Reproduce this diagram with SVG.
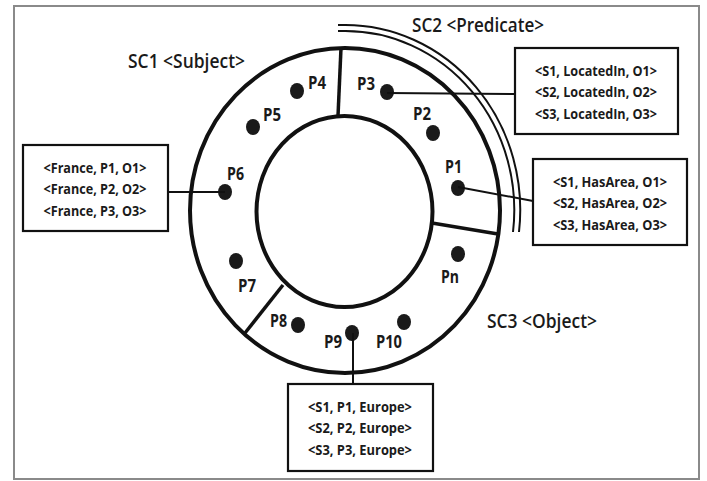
<svg xmlns="http://www.w3.org/2000/svg" width="707" height="481" viewBox="0 0 707 481">
  <style>
    .frame { fill: #ffffff; stroke: #8a8a8a; stroke-width: 2; }
    .ring { fill: none; stroke: #111; stroke-width: 4; }
    .divider { stroke: #111; stroke-width: 3.5; stroke-linecap: butt; }
    .band { fill: none; stroke: #111; stroke-width: 2; }
    .dot { fill: #1a1a1a; }
    .box { fill: #ffffff; stroke: #111; stroke-width: 2.2; }
    .link { stroke: #111; stroke-width: 2; fill: none; }
    text { font-family: "Open Sans", "Liberation Sans", Arial, sans-serif; fill: #1a1a1a; }
    .title { font-size: 19.5px; font-weight: 600; }
    .plabel { font-size: 18px; font-weight: bold; }
    .triple { font-size: 13.5px; font-weight: bold; text-anchor: middle; }
  </style>

  <rect class="frame" x="14" y="6" width="685" height="473"/>

  <!-- ring of partitions -->
  <g id="ring">
    <ellipse class="ring" cx="345" cy="210.5" rx="155" ry="162.5"/>
    <ellipse class="ring" cx="344.5" cy="211.5" rx="88" ry="95.5"/>
    <line class="divider" x1="341" y1="48" x2="338" y2="116"/>
    <line class="divider" x1="432" y1="223" x2="498" y2="234"/>
    <line class="divider" x1="283" y1="285" x2="245" y2="333"/>
  </g>

  <!-- double band marking the predicate segment -->
  <g id="sc2-band">
    <path class="band" d="M338,25 L345,25 A175,185 0 0 1 519,232"/>
    <path class="band" d="M338,31 L345,31 A169,179 0 0 1 513,232"/>
  </g>

  <!-- segment titles -->
  <g id="sc1"><text class="title" x="128" y="68" textLength="117" lengthAdjust="spacingAndGlyphs">SC1 &lt;Subject&gt;</text></g>
  <g id="sc2"><text class="title" x="412" y="32" textLength="132" lengthAdjust="spacingAndGlyphs">SC2 &lt;Predicate&gt;</text></g>
  <g id="sc3"><text class="title" x="487" y="328" textLength="110" lengthAdjust="spacingAndGlyphs">SC3 &lt;Object&gt;</text></g>

  <!-- partitions -->
  <g id="p1"><ellipse class="dot" cx="458" cy="188" rx="7" ry="8"/><text class="plabel" x="445" y="173" textLength="17" lengthAdjust="spacingAndGlyphs">P1</text></g>
  <g id="p2"><ellipse class="dot" cx="433" cy="133" rx="7" ry="8"/><text class="plabel" x="413" y="120" textLength="18" lengthAdjust="spacingAndGlyphs">P2</text></g>
  <g id="p3"><ellipse class="dot" cx="387" cy="92" rx="7" ry="8"/><text class="plabel" x="357" y="90" textLength="18" lengthAdjust="spacingAndGlyphs">P3</text></g>
  <g id="p4"><ellipse class="dot" cx="297" cy="91" rx="7" ry="8"/><text class="plabel" x="308" y="89" textLength="18" lengthAdjust="spacingAndGlyphs">P4</text></g>
  <g id="p5"><ellipse class="dot" cx="253" cy="127" rx="7" ry="8"/><text class="plabel" x="263" y="121" textLength="18" lengthAdjust="spacingAndGlyphs">P5</text></g>
  <g id="p6"><ellipse class="dot" cx="225" cy="192" rx="7" ry="8"/><text class="plabel" x="227" y="180" textLength="17" lengthAdjust="spacingAndGlyphs">P6</text></g>
  <g id="p7"><ellipse class="dot" cx="236" cy="261" rx="7" ry="8"/><text class="plabel" x="238" y="292" textLength="18" lengthAdjust="spacingAndGlyphs">P7</text></g>
  <g id="p8"><ellipse class="dot" cx="298" cy="325" rx="7" ry="8"/><text class="plabel" x="270" y="327" textLength="17" lengthAdjust="spacingAndGlyphs">P8</text></g>
  <g id="p9"><ellipse class="dot" cx="352" cy="333" rx="7" ry="8"/><text class="plabel" x="324" y="348" textLength="18" lengthAdjust="spacingAndGlyphs">P9</text></g>
  <g id="p10"><ellipse class="dot" cx="404" cy="322" rx="7" ry="8"/><text class="plabel" x="376" y="348" textLength="26" lengthAdjust="spacingAndGlyphs">P10</text></g>
  <g id="pn"><ellipse class="dot" cx="458" cy="254" rx="7" ry="8"/><text class="plabel" x="441" y="283" textLength="18" lengthAdjust="spacingAndGlyphs">Pn</text></g>

  <!-- connectors -->
  <g id="connectors">
    <line class="link" x1="387" y1="93" x2="515" y2="94"/>
    <line class="link" x1="458" y1="187" x2="533" y2="201"/>
    <line class="link" x1="168" y1="192" x2="225" y2="192"/>
    <line class="link" x1="353" y1="333" x2="353" y2="384"/>
  </g>

  <!-- triple boxes -->
  <g id="box-locatedin">
    <rect class="box" x="515" y="48" width="163" height="86"/>
    <text class="triple" x="596" y="76" textLength="122" lengthAdjust="spacingAndGlyphs">&lt;S1, LocatedIn, O1&gt;</text>
    <text class="triple" x="596" y="97" textLength="122" lengthAdjust="spacingAndGlyphs">&lt;S2, LocatedIn, O2&gt;</text>
    <text class="triple" x="596" y="119" textLength="122" lengthAdjust="spacingAndGlyphs">&lt;S3, LocatedIn, O3&gt;</text>
  </g>
  <g id="box-hasarea">
    <rect class="box" x="533" y="159" width="154" height="86"/>
    <text class="triple" x="610" y="187" textLength="114" lengthAdjust="spacingAndGlyphs">&lt;S1, HasArea, O1&gt;</text>
    <text class="triple" x="610" y="208" textLength="114" lengthAdjust="spacingAndGlyphs">&lt;S2, HasArea, O2&gt;</text>
    <text class="triple" x="610" y="230" textLength="114" lengthAdjust="spacingAndGlyphs">&lt;S3, HasArea, O3&gt;</text>
  </g>
  <g id="box-france">
    <rect class="box" x="23" y="145" width="145" height="86"/>
    <text class="triple" x="95" y="173" textLength="103" lengthAdjust="spacingAndGlyphs">&lt;France, P1, O1&gt;</text>
    <text class="triple" x="95" y="194" textLength="103" lengthAdjust="spacingAndGlyphs">&lt;France, P2, O2&gt;</text>
    <text class="triple" x="95" y="216" textLength="103" lengthAdjust="spacingAndGlyphs">&lt;France, P3, O3&gt;</text>
  </g>
  <g id="box-europe">
    <rect class="box" x="288" y="384" width="145" height="87"/>
    <text class="triple" x="360" y="412" textLength="104" lengthAdjust="spacingAndGlyphs">&lt;S1, P1, Europe&gt;</text>
    <text class="triple" x="360" y="433" textLength="104" lengthAdjust="spacingAndGlyphs">&lt;S2, P2, Europe&gt;</text>
    <text class="triple" x="360" y="455" textLength="104" lengthAdjust="spacingAndGlyphs">&lt;S3, P3, Europe&gt;</text>
  </g>
</svg>
